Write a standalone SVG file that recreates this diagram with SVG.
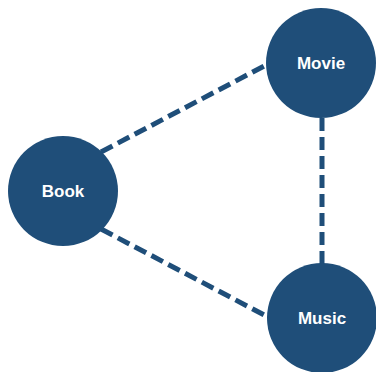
<svg xmlns="http://www.w3.org/2000/svg" width="376" height="372" viewBox="0 0 376 372">
<style>
.node circle{fill:#1F4E79}
.node text{fill:#fff;font-family:"Liberation Sans",Arial,sans-serif;font-weight:bold;font-size:17px;text-anchor:middle;dominant-baseline:central}
.edge{stroke:#1F4E79;stroke-width:5;stroke-dasharray:13 6;fill:none}
</style>
<rect width="376" height="372" fill="#fff"/>
<g id="connectors">
<line class="edge" x1="101" y1="152" x2="268" y2="64"/>
<line class="edge" x1="101" y1="229" x2="268" y2="317"/>
<line class="edge" x1="322" y1="118" x2="322" y2="264"/>
</g>
<g id="movie" class="node"><circle cx="321" cy="63" r="55"/><text x="321" y="63">Movie</text></g>
<g id="book" class="node"><circle cx="63" cy="191" r="55"/><text x="63" y="191">Book</text></g>
<g id="music" class="node"><circle cx="322" cy="318" r="55"/><text x="322" y="318">Music</text></g>
</svg>
